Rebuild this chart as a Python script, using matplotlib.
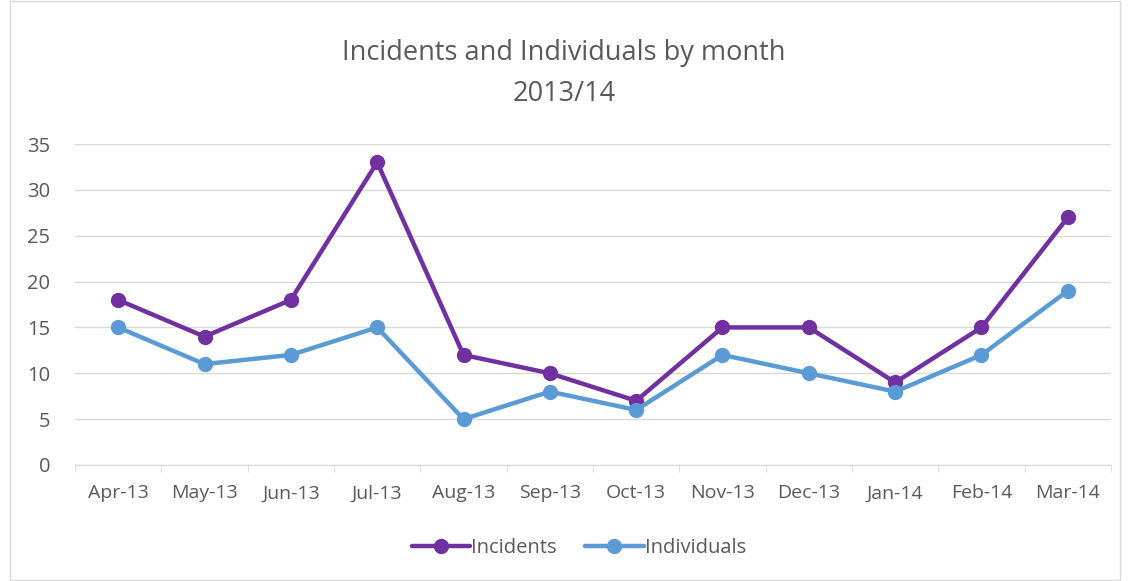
import matplotlib.pyplot as plt
import numpy as np
from matplotlib.patches import Rectangle

months = ["Apr-13", "May-13", "Jun-13", "Jul-13", "Aug-13", "Sep-13",
          "Oct-13", "Nov-13", "Dec-13", "Jan-14", "Feb-14", "Mar-14"]
incidents = [18, 14, 18, 33, 12, 10, 7, 15, 15, 9, 15, 27]
individuals = [15, 11, 12, 15, 5, 8, 6, 12, 10, 8, 12, 19]

plt.rcParams['font.family'] = ['Open Sans', 'DejaVu Sans']
txt = '#595959'

fig = plt.figure(figsize=(11.28, 5.81), dpi=100)
ax = fig.add_axes([75/1128, 1-465/581, (1111-75)/1128, (465-144)/581])

x = np.arange(len(months))
ax.plot(x, incidents, color='#7030A0', lw=3.2, marker='o', ms=10, label='Incidents',
        solid_capstyle='round')
ax.plot(x, individuals, color='#5B9BD5', lw=3.2, marker='o', ms=10, label='Individuals',
        solid_capstyle='round')

ax.set_xlim(-0.5, len(months) - 0.5)
ax.set_ylim(0, 35)
ax.set_yticks(range(0, 36, 5))
ax.yaxis.grid(True, color='#D9D9D9', lw=1)
ax.set_axisbelow(True)
ax.tick_params(axis='y', length=0, labelsize=14.5, labelcolor=txt, pad=18)
ax.set_xticks(x)
ax.set_xticklabels(months)
ax.set_xticks(np.arange(-0.5, len(months), 1), minor=True)
ax.tick_params(axis='x', which='major', length=0, labelsize=14, labelcolor=txt, pad=14)
ax.tick_params(axis='x', which='minor', length=5, color='#D9D9D9')
for s in ['top', 'right', 'left']:
    ax.spines[s].set_visible(False)
ax.spines['bottom'].set_color('#D9D9D9')

fig.text(0.5, 1-53/581, "Incidents and Individuals by month", ha='center', va='center',
         fontsize=19.5, color=txt)
fig.text(0.5, 1-94/581, "2013/14", ha='center', va='center', fontsize=19.5, color=txt)

fig.legend(loc='center', bbox_to_anchor=(579/1128, 1-548/581), ncol=2, frameon=False,
           fontsize=14.5, labelcolor=txt, handlelength=2.9, columnspacing=1.4, handletextpad=0.05)

fig.patches.append(Rectangle((10/1128, 0.002), 1110/1128, 0.996, transform=fig.transFigure,
                             fill=False, edgecolor='#D9D9D9', lw=1))

fig.savefig('out.png', dpi=100)
